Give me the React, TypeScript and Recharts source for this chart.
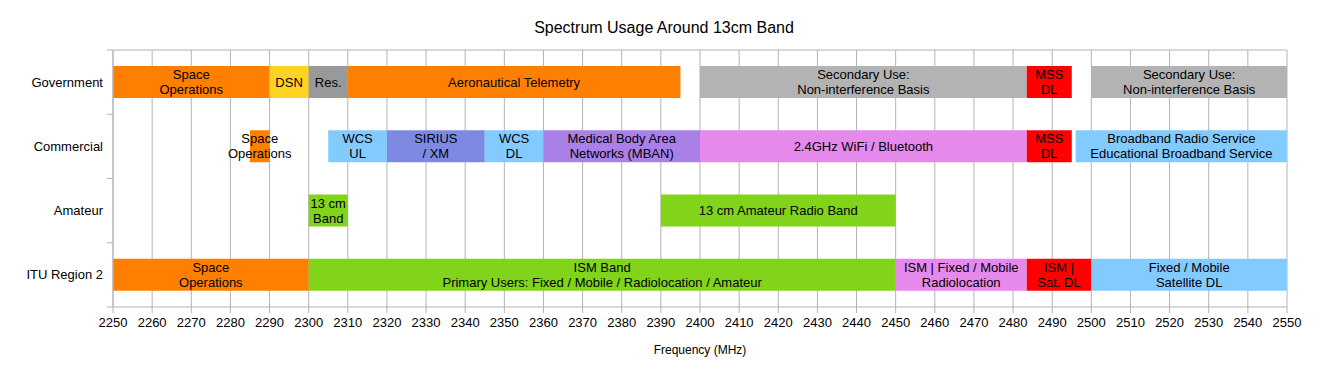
import React from 'react';
import { BarChart, Bar, XAxis, YAxis, CartesianGrid, Cell, LabelList } from 'recharts';

if (typeof document !== 'undefined') {
  document.body.style.margin = '0';
}

const categories = ['Government', 'Commercial', 'Amateur', 'ITU Region 2'];

const serviceColors: Record<string, string> = {
  space: '#ff8000',
  dsn: '#ffd320',
  reserved: '#999999',
  secondary: '#b3b3b3',
  mss: '#ff0000',
  wcs: '#83caff',
  sirius: '#7d88e2',
  mban: '#a97fe8',
  wifi: '#e689ed',
  amateur: '#81d41a',
};

const governmentBands = [
  { start: 2250, end: 2290, label: 'Space\nOperations', service: 'space' },
  { start: 2290, end: 2300, label: 'DSN', service: 'dsn' },
  { start: 2300, end: 2310, label: 'Res.', service: 'reserved' },
  { start: 2310, end: 2395, label: 'Aeronautical Telemetry', service: 'space' },
  { start: 2400, end: 2483.5, label: 'Secondary Use:\nNon-interference Basis', service: 'secondary' },
  { start: 2483.5, end: 2495, label: 'MSS\nDL', service: 'mss' },
  { start: 2500, end: 2550, label: 'Secondary Use:\nNon-interference Basis', service: 'secondary' },
];

const commercialBands = [
  { start: 2285, end: 2290, label: 'Space\nOperations', service: 'space' },
  { start: 2305, end: 2320, label: 'WCS\nUL', service: 'wcs' },
  { start: 2320, end: 2345, label: 'SIRIUS\n/ XM', service: 'sirius' },
  { start: 2345, end: 2360, label: 'WCS\nDL', service: 'wcs' },
  { start: 2360, end: 2400, label: 'Medical Body Area\nNetworks (MBAN)', service: 'mban' },
  { start: 2400, end: 2483.5, label: '2.4GHz WiFi / Bluetooth', service: 'wifi' },
  { start: 2483.5, end: 2495, label: 'MSS\nDL', service: 'mss' },
  { start: 2496, end: 2550, label: 'Broadband Radio Service\nEducational Broadband Service', service: 'wcs' },
];

const amateurBands = [
  { start: 2300, end: 2310, label: '13 cm\nBand', service: 'amateur' },
  { start: 2390, end: 2450, label: '13 cm Amateur Radio Band', service: 'amateur' },
];

const ituBands = [
  { start: 2250, end: 2300, label: 'Space\nOperations', service: 'space' },
  { start: 2300, end: 2450, label: 'ISM Band\nPrimary Users: Fixed / Mobile / Radiolocation / Amateur', service: 'amateur' },
  { start: 2450, end: 2483.5, label: 'ISM | Fixed / Mobile\nRadiolocation', service: 'wifi' },
  { start: 2483.5, end: 2500, label: 'ISM |\nSat. DL', service: 'mss' },
  { start: 2500, end: 2550, label: 'Fixed / Mobile\nSatellite DL', service: 'wcs' },
];

const bandsByCategory = [governmentBands, commercialBands, amateurBands, ituBands];

const xTicks = [
  2250, 2260, 2270, 2280, 2290, 2300, 2310, 2320, 2330, 2340, 2350, 2360, 2370, 2380, 2390, 2400,
  2410, 2420, 2430, 2440, 2450, 2460, 2470, 2480, 2490, 2500, 2510, 2520, 2530, 2540, 2550,
];

const SLOT_COUNT = 8;
const slots = Array.from({ length: SLOT_COUNT }, (_, i) => i);

const rows = categories.map((category, i) => {
  const row: any = { category };
  bandsByCategory[i].forEach((b, j) => {
    row[`s${j}`] = [b.start, b.end];
    row[`l${j}`] = b.label;
    row[`c${j}`] = serviceColors[b.service];
  });
  return row;
});

const FONT = '"Liberation Sans", Arial, sans-serif';
const GRID = '#b3b3b3';
const BAND = 64.25;

const YTick = (props: any) => {
  const { x, y, payload, index } = props;
  return (
    <g>
      <text x={x} y={y} dy={4.5} textAnchor="end" fontSize={13} fill="#000" fontFamily={FONT}>
        {payload.value}
      </text>
      <line x1={x + 4} x2={x + 10} y1={y - BAND / 2} y2={y - BAND / 2} stroke={GRID} />
      {index === categories.length - 1 && (
        <line x1={x + 4} x2={x + 10} y1={y + BAND / 2} y2={y + BAND / 2} stroke={GRID} />
      )}
    </g>
  );
};

const BandLabel = (props: any) => {
  const { x, y, width, height, value } = props;
  if (!value || typeof value !== 'string' || width == null) return null;
  const lines = value.split('\n');
  const cx = Number(x) + Number(width) / 2;
  const cy = Number(y) + Number(height) / 2;
  return (
    <g>
      {lines.map((line: string, k: number) => (
        <text
          key={k}
          x={cx}
          y={cy + (k - (lines.length - 1) / 2) * 15 + 4.5}
          textAnchor="middle"
          fontSize={13}
          fill="#000"
          fontFamily={FONT}
        >
          {line}
        </text>
      ))}
    </g>
  );
};

export default function App() {
  return (
    <div style={{ position: 'relative', width: 1328, height: 377, fontFamily: FONT, background: '#fff' }}>
      <div
        style={{
          position: 'absolute',
          top: 18,
          left: 0,
          width: 1328,
          height: 20,
          lineHeight: '20px',
          textAlign: 'center',
          fontSize: 16,
          fontFamily: FONT,
          color: '#000',
        }}
      >
        Spectrum Usage Around 13cm Band
      </div>
      <BarChart
        width={1328}
        height={377}
        data={rows}
        layout="vertical"
        margin={{ top: 50, right: 41, left: 0, bottom: 0 }}
        barGap={-32}
      >
        <CartesianGrid
          stroke={GRID}
          vertical={true}
          horizontal={true}
          horizontalCoordinatesGenerator={(args: any) => [args && args.offset ? args.offset.top : 50]}
        />
        <XAxis
          type="number"
          domain={[2250, 2550]}
          ticks={xTicks}
          interval={0}
          height={70}
          stroke={GRID}
          tickSize={6}
          tickMargin={5}
          tick={{ fill: '#000', fontSize: 13, fontFamily: FONT }}
          label={{ value: 'Frequency (MHz)', position: 'insideBottom', offset: 23, fill: '#000', fontSize: 12, fontFamily: FONT }}
        />
        <YAxis
          type="category"
          dataKey="category"
          width={113}
          stroke={GRID}
          tickLine={false}
          tickSize={6}
          tickMargin={4}
          tick={<YTick />}
          interval={0}
        />
        {slots.map((slot) => (
          <Bar key={slot} dataKey={`s${slot}`} barSize={32} isAnimationActive={false}>
            {rows.map((row, i) => (
              <Cell key={i} fill={row[`c${slot}`] || 'transparent'} />
            ))}
            <LabelList dataKey={`l${slot}`} content={<BandLabel />} />
          </Bar>
        ))}
      </BarChart>
    </div>
  );
}
